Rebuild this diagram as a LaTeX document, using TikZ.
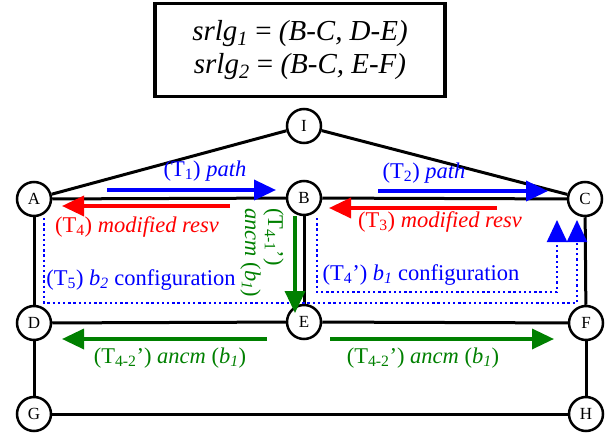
\documentclass[tikz,border=0pt]{standalone}
\usepackage{fontspec}
\setmainfont{Liberation Serif}
\usetikzlibrary{arrows.meta}
\definecolor{dgreen}{RGB}{0,128,0}
\begin{document}
\begin{tikzpicture}[x=1pt,y=-1pt,
  vtx/.style={circle,draw,line width=2.5pt,minimum size=34pt,inner sep=0pt,fill=white,font=\fontsize{17}{17}\selectfont},
  link/.style={line width=3pt},
  bigarrow/.style={line width=3.5pt,-{Triangle[length=22pt,width=20pt]}},
  lbl/.style={font=\fontsize{22.5}{23}\selectfont,inner sep=0pt},
  dots/.style={blue,line width=2.3pt,dash pattern=on 2.3pt off 2.9pt,-{Triangle[length=22pt,width=20pt]}},
]
\useasboundingbox (0,0) rectangle (616,441);
% SRLG box
\node[draw,line width=3.5pt,minimum width=290pt,minimum height=93pt,align=center,
  font=\fontsize{29}{33}\selectfont] (box) at (300,50)
  {\textit{srlg\textsubscript{1}} = \textit{(B-C, D-E)}\\\textit{srlg\textsubscript{2}} = \textit{(B-C, E-F)}};
% vertices
\node[vtx] (I) at (304,126) {I};
\node[vtx] (A) at (34,199) {A};
\node[vtx] (B) at (304,198) {B};
\node[vtx] (C) at (585,199) {C};
\node[vtx] (D) at (34,323) {D};
\node[vtx] (E) at (304,322) {E};
\node[vtx] (F) at (586,323) {F};
\node[vtx] (G) at (34,414) {G};
\node[vtx] (H) at (586,414) {H};
% links
\draw[link] (A) -- (I);
\draw[link] (I) -- (C);
\draw[link] (A) -- (B);
\draw[link] (B) -- (C);
\draw[link] (A) -- (D);
\draw[link] (C) -- (F);
\draw[link] (B) -- (E);
\draw[link] (D) -- (E);
\draw[link] (E) -- (F);
\draw[link] (D) -- (G);
\draw[link] (F) -- (H);
\draw[link] (G) -- (H);
% coordinates for free arrow ends
\coordinate (t1s) at (107,190); \coordinate (t1e) at (276,190);
\coordinate (t4s) at (230,206); \coordinate (t4e) at (62,206);
\coordinate (t2s) at (378,191); \coordinate (t2e) at (548,191);
\coordinate (t3s) at (497,208); \coordinate (t3e) at (329,208);
\coordinate (t41s) at (295,216); \coordinate (t41e) at (295,313);
\coordinate (t42ls) at (267,339); \coordinate (t42le) at (62,339);
\coordinate (t42rs) at (330,339); \coordinate (t42re) at (554,339);
\coordinate (t5s) at (44,218); \coordinate (t5a) at (44,303);
\coordinate (t5b) at (577,303); \coordinate (t5e) at (577,220);
\coordinate (t4ps) at (317,218); \coordinate (t4pa) at (317,292);
\coordinate (t4pb) at (557,292); \coordinate (t4pe) at (557,220);
% dotted configuration paths
\draw[dots] (t5s) -- (t5a) -- (t5b) -- (t5e);
\draw[dots] (t4ps) -- (t4pa) -- (t4pb) -- (t4pe);
% solid message arrows
\draw[bigarrow,blue] (t1s) -- (t1e);
\draw[bigarrow,red] (t4s) -- (t4e);
\draw[bigarrow,blue] (t2s) -- (t2e);
\draw[bigarrow,red] (t3s) -- (t3e);
\draw[bigarrow,dgreen] (t41s) -- (t41e);
\draw[bigarrow,dgreen] (t42ls) -- (t42le);
\draw[bigarrow,dgreen] (t42rs) -- (t42re);
% labels
\node[lbl,blue] (l1) at (205,171) {(T\textsubscript{1}) \textit{path}};
\node[lbl,red] (l4) at (137,227) {(T\textsubscript{4}) \textit{modified resv}};
\node[lbl,blue] (l2) at (424,173) {(T\textsubscript{2}) \textit{path}};
\node[lbl,red] (l3) at (440,222) {(T\textsubscript{3}) \textit{modified resv}};
\node[lbl,blue] (l5) at (141,280) {(T\textsubscript{5}) \textit{b\textsubscript{2}} configuration};
\node[lbl,blue] (l4p) at (421,275) {(T\textsubscript{4}’) \textit{b\textsubscript{1}} configuration};
\node[lbl,dgreen,rotate=-90,anchor=west,align=left] (l41) at (262,208)
  {(T\textsubscript{4-1}’)\\\textit{ancm} (\textit{b\textsubscript{1}})};
\node[lbl,dgreen] (l42l) at (170,358) {(T\textsubscript{4-2}’) \textit{ancm} (\textit{b\textsubscript{1}})};
\node[lbl,dgreen] (l42r) at (423,358) {(T\textsubscript{4-2}’) \textit{ancm} (\textit{b\textsubscript{1}})};
\end{tikzpicture}
\end{document}
